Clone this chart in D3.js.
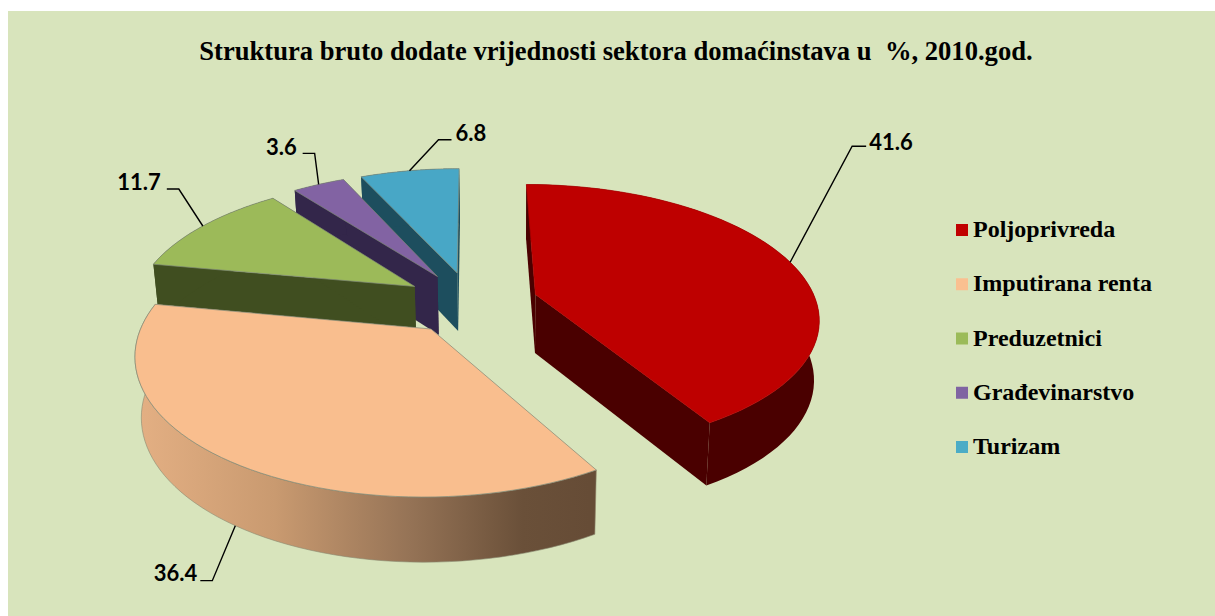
<!DOCTYPE html>
<html><head><meta charset="utf-8">
<script src="https://cdn.jsdelivr.net/npm/d3@7"></script>
<style>html,body{margin:0;padding:0;background:#fff}svg{display:block}</style>
</head><body><div id="c"></div>
<script>
const titleText = "Struktura bruto dodate vrijednosti sektora domaćinstava u  %, 2010.god.";
const categories = ["Poljoprivreda","Imputirana renta","Preduzetnici","Građevinarstvo","Turizam"];
const values = [41.6,36.4,11.7,3.6,6.8];
const topColors = ["#BE0000","#F9BE8E","#9CBA59","#8263A3","#48A7C6"];
const wallColors = ["#4A0000","#8A6A4E","#404E20","#33264A","#1D4E5E"];
const legendColors = ["#C00000","#FAC090","#9BBB59","#8064A2","#4BACC6"];
const drawOrder = [4,3,2,0,1];
// leader elbow and label layout, as offsets from the slice's rim anchor
const elbowOffset = [[62,-116],[-23,55],[-24,-37],[-4,-31],[29,-31]];
const elbowRun = [14,-12,-12,-12,13];
const labelGap = [3,-3,-6,-6,4];
const labelLift = [-2,-5,-5,-4,-4];

const W=1215,H=616, cx=471, cy=302.5, rx=281, ry=130.5, persp=0.165, explode=0.24;
const depth=59, depthPow=0.45, footX=510, footScale=0.983;

const xs=d3.scaleLinear().domain([-1,1]).range([cx-rx,cx+rx]);
const ys=d3.scaleLinear().domain([-1,1]).range([cy-ry,cy+ry]);
function project(u,v,bottom){
  const w=1/(1-persp*v);
  let x=cx+(xs(u)-cx)*w, y=cy+(ys(v)-cy)*w;
  if(bottom){ x=footX+(x-footX)*footScale; y+=depth*Math.pow(w,depthPow); }
  return [x,y];
}
const svg=d3.select("#c").append("svg").attr("width",W).attr("height",H);
svg.append("rect").attr("x",8).attr("y",11).attr("width",W-8).attr("height",H-11).attr("fill","#D8E4BC");

const defs=svg.append("defs");
const g=defs.append("linearGradient").attr("id","wallPeach").attr("gradientUnits","userSpaceOnUse")
  .attr("x1",140).attr("x2",590).attr("y1",0).attr("y2",0);
[[0,"#E3AF83"],[0.3,"#C99A70"],[0.6,"#957356"],[0.85,"#6A5039"],[1,"#664C36"]]
  .forEach(s=>g.append("stop").attr("offset",s[0]).attr("stop-color",s[1]));

const pie=d3.pie().sort(null).value(d=>d)(values);
const line=d3.line().curve(d3.curveLinearClosed);
const slices=pie.map((p,i)=>{
  const mid=(p.startAngle+p.endAngle)/2;
  const ax=explode*Math.sin(mid), ay=-explode*Math.cos(mid);
  const angs=d3.range(0,61).map(k=>p.startAngle+(p.endAngle-p.startAngle)*k/60);
  const rim=angs.map(a=>[ax+Math.sin(a),ay-Math.cos(a)]);
  return {i,mid,ax,ay,rim};
});
const gSl=svg.append("g");
drawOrder.forEach(i=>{
  const s=slices[i], apex=[s.ax,s.ay];
  const top=pts=>pts.map(q=>project(q[0],q[1],false));
  const bot=pts=>pts.map(q=>project(q[0],q[1],true));
  const wall=i===1?"url(#wallPeach)":wallColors[i];
  const gs=gSl.append("g");
  [s.rim[0],s.rim[s.rim.length-1]].forEach(e=>{
    const a=[apex,e];
    gs.append("path").attr("d",line(top(a).concat(bot(a).reverse())))
      .attr("fill",i===1?"#F9BE8E":wallColors[i]);
  });
  gs.append("path").attr("d",line(top(s.rim).concat(bot(s.rim).reverse())))
    .attr("fill",wall).attr("stroke",i===1?"#8a8a70":"none").attr("stroke-width",i===1?0.6:0);
  gs.append("path").attr("d",line(top([apex].concat(s.rim))))
    .attr("fill",topColors[i]).attr("stroke",i===0?"#B00000":"#7f8a78").attr("stroke-width",0.7).attr("stroke-linejoin","round");
});

const gL=svg.append("g");
slices.forEach(s=>{
  const i=s.i, u=s.ax+Math.sin(s.mid), v=s.ay-Math.cos(s.mid);
  const anchor=project(u,v,i===1);
  const e=[anchor[0]+elbowOffset[i][0],anchor[1]+elbowOffset[i][1]];
  const end=[e[0]+elbowRun[i],e[1]];
  gL.append("path").attr("d",d3.line()([anchor,e,end])).attr("fill","none").attr("stroke","#000").attr("stroke-width",1.4);
  gL.append("text").attr("x",end[0]+labelGap[i]).attr("y",end[1]+labelLift[i])
    .attr("text-anchor",elbowRun[i]>0?"start":"end").attr("dominant-baseline","middle")
    .attr("font-family","Lato").attr("font-weight",700).attr("font-size",22).attr("fill","#000").text(values[i].toFixed(1));
});

svg.append("text").attr("x",616).attr("y",60).attr("text-anchor","middle").attr("xml:space","preserve")
  .style("white-space","pre").attr("font-family","Liberation Serif").attr("font-weight",700).attr("font-size",26.6).attr("fill","#000").text(titleText);

const legY=d3.scalePoint().domain(categories).range([230,447]);
const leg=svg.append("g").selectAll("g").data(categories).join("g");
leg.append("rect").attr("x",956).attr("y",d=>legY(d)-6).attr("width",12).attr("height",12).attr("fill",(d,i)=>legendColors[i]);
leg.append("text").attr("x",973).attr("y",d=>legY(d)+7).attr("font-family","Liberation Serif").attr("font-weight",700).attr("font-size",24).attr("fill","#000").text(d=>d);
</script></body></html>
